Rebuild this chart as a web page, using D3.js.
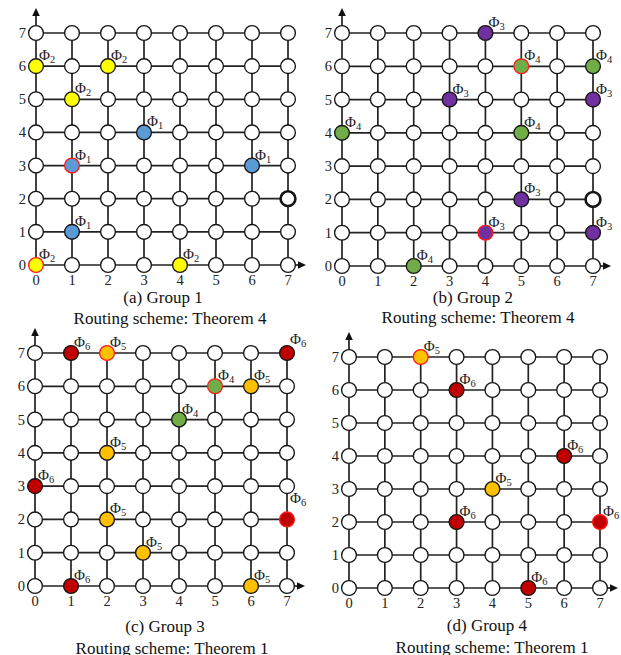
<!DOCTYPE html>
<html>
<head>
<meta charset="utf-8">
<script src="https://cdn.jsdelivr.net/npm/d3@7"></script>
<style>
  body { margin: 0; background: #fff; }
  svg { display: block; }
</style>
</head>
<body>
<script>
// Mesh coordinates (columns and rows 0..7)
const gridIndex = [0, 1, 2, 3, 4, 5, 6, 7];

const captions = ["(a) Group 1", "(b) Group 2", "(c) Group 3", "(d) Group 4"];
const schemes = [
  "Routing scheme: Theorem 4",
  "Routing scheme: Theorem 4",
  "Routing scheme: Theorem 1",
  "Routing scheme: Theorem 1"
];

// Active nodes per group: [column, row, phase index, marked source (1 = red outline)]
const group1 = [[0,6,2,0],[1,5,2,0],[2,6,2,0],[0,0,2,1],[4,0,2,0],
                [3,4,1,0],[1,3,1,1],[6,3,1,0],[1,1,1,0]];
const group2 = [[4,7,3,0],[3,5,3,0],[7,5,3,0],[5,2,3,0],[4,1,3,1],[7,1,3,0],
                [5,6,4,1],[7,6,4,0],[0,4,4,0],[5,4,4,0],[2,0,4,0]];
const group3 = [[1,7,6,0],[7,7,6,0],[0,3,6,0],[7,2,6,1],[1,0,6,0],
                [2,7,5,1],[6,6,5,0],[2,4,5,0],[2,2,5,0],[3,1,5,0],[6,0,5,0],
                [5,6,4,1],[4,5,4,0]];
const group4 = [[2,7,5,1],[4,3,5,0],
                [3,6,6,0],[6,4,6,0],[3,2,6,0],[7,2,6,1],[5,0,6,0]];

// Nodes drawn with a heavy black ring
const group1Bold = [[7,2]];
const group2Bold = [[7,2]];
const group3Bold = [];
const group4Bold = [];

const groups = [group1, group2, group3, group4];
const bolds = [group1Bold, group2Bold, group3Bold, group4Bold];

// Phase colours
const phaseColor = {1: "#5b9bd5", 2: "#ffff00", 3: "#7030a0", 4: "#70ad47", 5: "#ffc000", 6: "#c00000"};

// Panel placement in the page
const panels = [
  {x0: 36,  x1: 288, yb: 265, yt: 33,  cap: [163, 303], sch: [170, 324]},
  {x0: 342, x1: 593, yb: 266, yt: 33,  cap: [473, 303], sch: [478, 323]},
  {x0: 35,  x1: 287, yb: 586, yt: 353, cap: [165, 632], sch: [172, 654]},
  {x0: 349, x1: 600, yb: 588, yt: 357, cap: [487, 631], sch: [492, 653]}
];

// Extra lift for a few phase labels that sit higher than the rest
const labelLift = {"2:7,2": 10, "2:7,7": 3};

const W = 621, H = 655;
const serif = "'Liberation Serif', 'Times New Roman', serif";
const R = 7.4;

const svg = d3.select("body").append("svg")
  .attr("width", W).attr("height", H)
  .attr("viewBox", `0 0 ${W} ${H}`);

panels.forEach((p, gi) => {
  const x = d3.scaleLinear().domain([0, 7]).range([p.x0, p.x1]);
  const y = d3.scaleLinear().domain([0, 7]).range([p.yb, p.yt]);
  const g = svg.append("g");

  // Mesh links
  const links = g.append("g").attr("stroke", "#222").attr("stroke-width", 1.7);
  gridIndex.forEach(i => {
    links.append("line").attr("x1", x(0)).attr("x2", x(7)).attr("y1", y(i)).attr("y2", y(i));
    links.append("line").attr("x1", x(i)).attr("x2", x(i)).attr("y1", y(0)).attr("y2", y(7));
  });

  // Axis arrows
  const xEnd = x(7) + 18, yEnd = y(7) - 25;
  links.append("line").attr("x1", x(7)).attr("x2", xEnd - 6).attr("y1", y(0)).attr("y2", y(0));
  links.append("line").attr("x1", x(0)).attr("x2", x(0)).attr("y1", y(7)).attr("y2", yEnd + 6);
  g.append("path")
    .attr("d", `M${xEnd},${y(0)} L${xEnd - 8},${y(0) - 3.8} L${xEnd - 8},${y(0) + 3.8} Z`)
    .attr("fill", "#111");
  g.append("path")
    .attr("d", `M${x(0)},${yEnd} L${x(0) - 3.8},${yEnd + 8} L${x(0) + 3.8},${yEnd + 8} Z`)
    .attr("fill", "#111");

  // Nodes
  const active = new Map(groups[gi].map(d => [d[0] + "," + d[1], d]));
  const bold = new Set(bolds[gi].map(d => d[0] + "," + d[1]));
  const cells = [];
  gridIndex.forEach(c => gridIndex.forEach(r => cells.push([c, r])));

  g.append("g").selectAll("circle").data(cells).join("circle")
    .attr("cx", d => x(d[0])).attr("cy", d => y(d[1])).attr("r", R)
    .attr("fill", d => {
      const a = active.get(d[0] + "," + d[1]);
      return a ? phaseColor[a[2]] : "#fff";
    })
    .attr("stroke", d => {
      const a = active.get(d[0] + "," + d[1]);
      return a && a[3] ? "#ff1a1a" : "#151515";
    })
    .attr("stroke-width", d => bold.has(d[0] + "," + d[1]) ? 2.6 : 1.35);

  // Phase labels
  const lab = g.append("g").attr("font-family", serif).attr("fill", "#222");
  groups[gi].forEach(d => {
    const lift = labelLift[gi + ":" + d[0] + "," + d[1]] || 0;
    const t = lab.append("text")
      .attr("x", x(d[0]) + 3)
      .attr("y", y(d[1]) - 6 - lift)
      .attr("font-size", 15);
    t.append("tspan").text("Φ");
    t.append("tspan").attr("font-size", 10.5).attr("dy", 3).text(d[2]);
  });

  // Tick labels
  const ticks = g.append("g").attr("font-family", serif).attr("font-size", 14.5).attr("fill", "#222");
  ticks.selectAll(".xt").data(gridIndex).join("text").attr("class", "xt")
    .attr("x", d => x(d)).attr("y", y(0) + 20).attr("text-anchor", "middle").text(d => d);
  ticks.selectAll(".yt").data(gridIndex).join("text").attr("class", "yt")
    .attr("x", x(0) - 10).attr("y", d => y(d) + 5).attr("text-anchor", "end").text(d => d);

  // Captions
  const capG = g.append("g").attr("font-family", serif).attr("font-size", 17).attr("fill", "#111")
    .attr("text-anchor", "middle");
  capG.append("text").attr("x", p.cap[0]).attr("y", p.cap[1]).text(captions[gi]);
  capG.append("text").attr("x", p.sch[0]).attr("y", p.sch[1]).text(schemes[gi]);
});
</script>
</body>
</html>
